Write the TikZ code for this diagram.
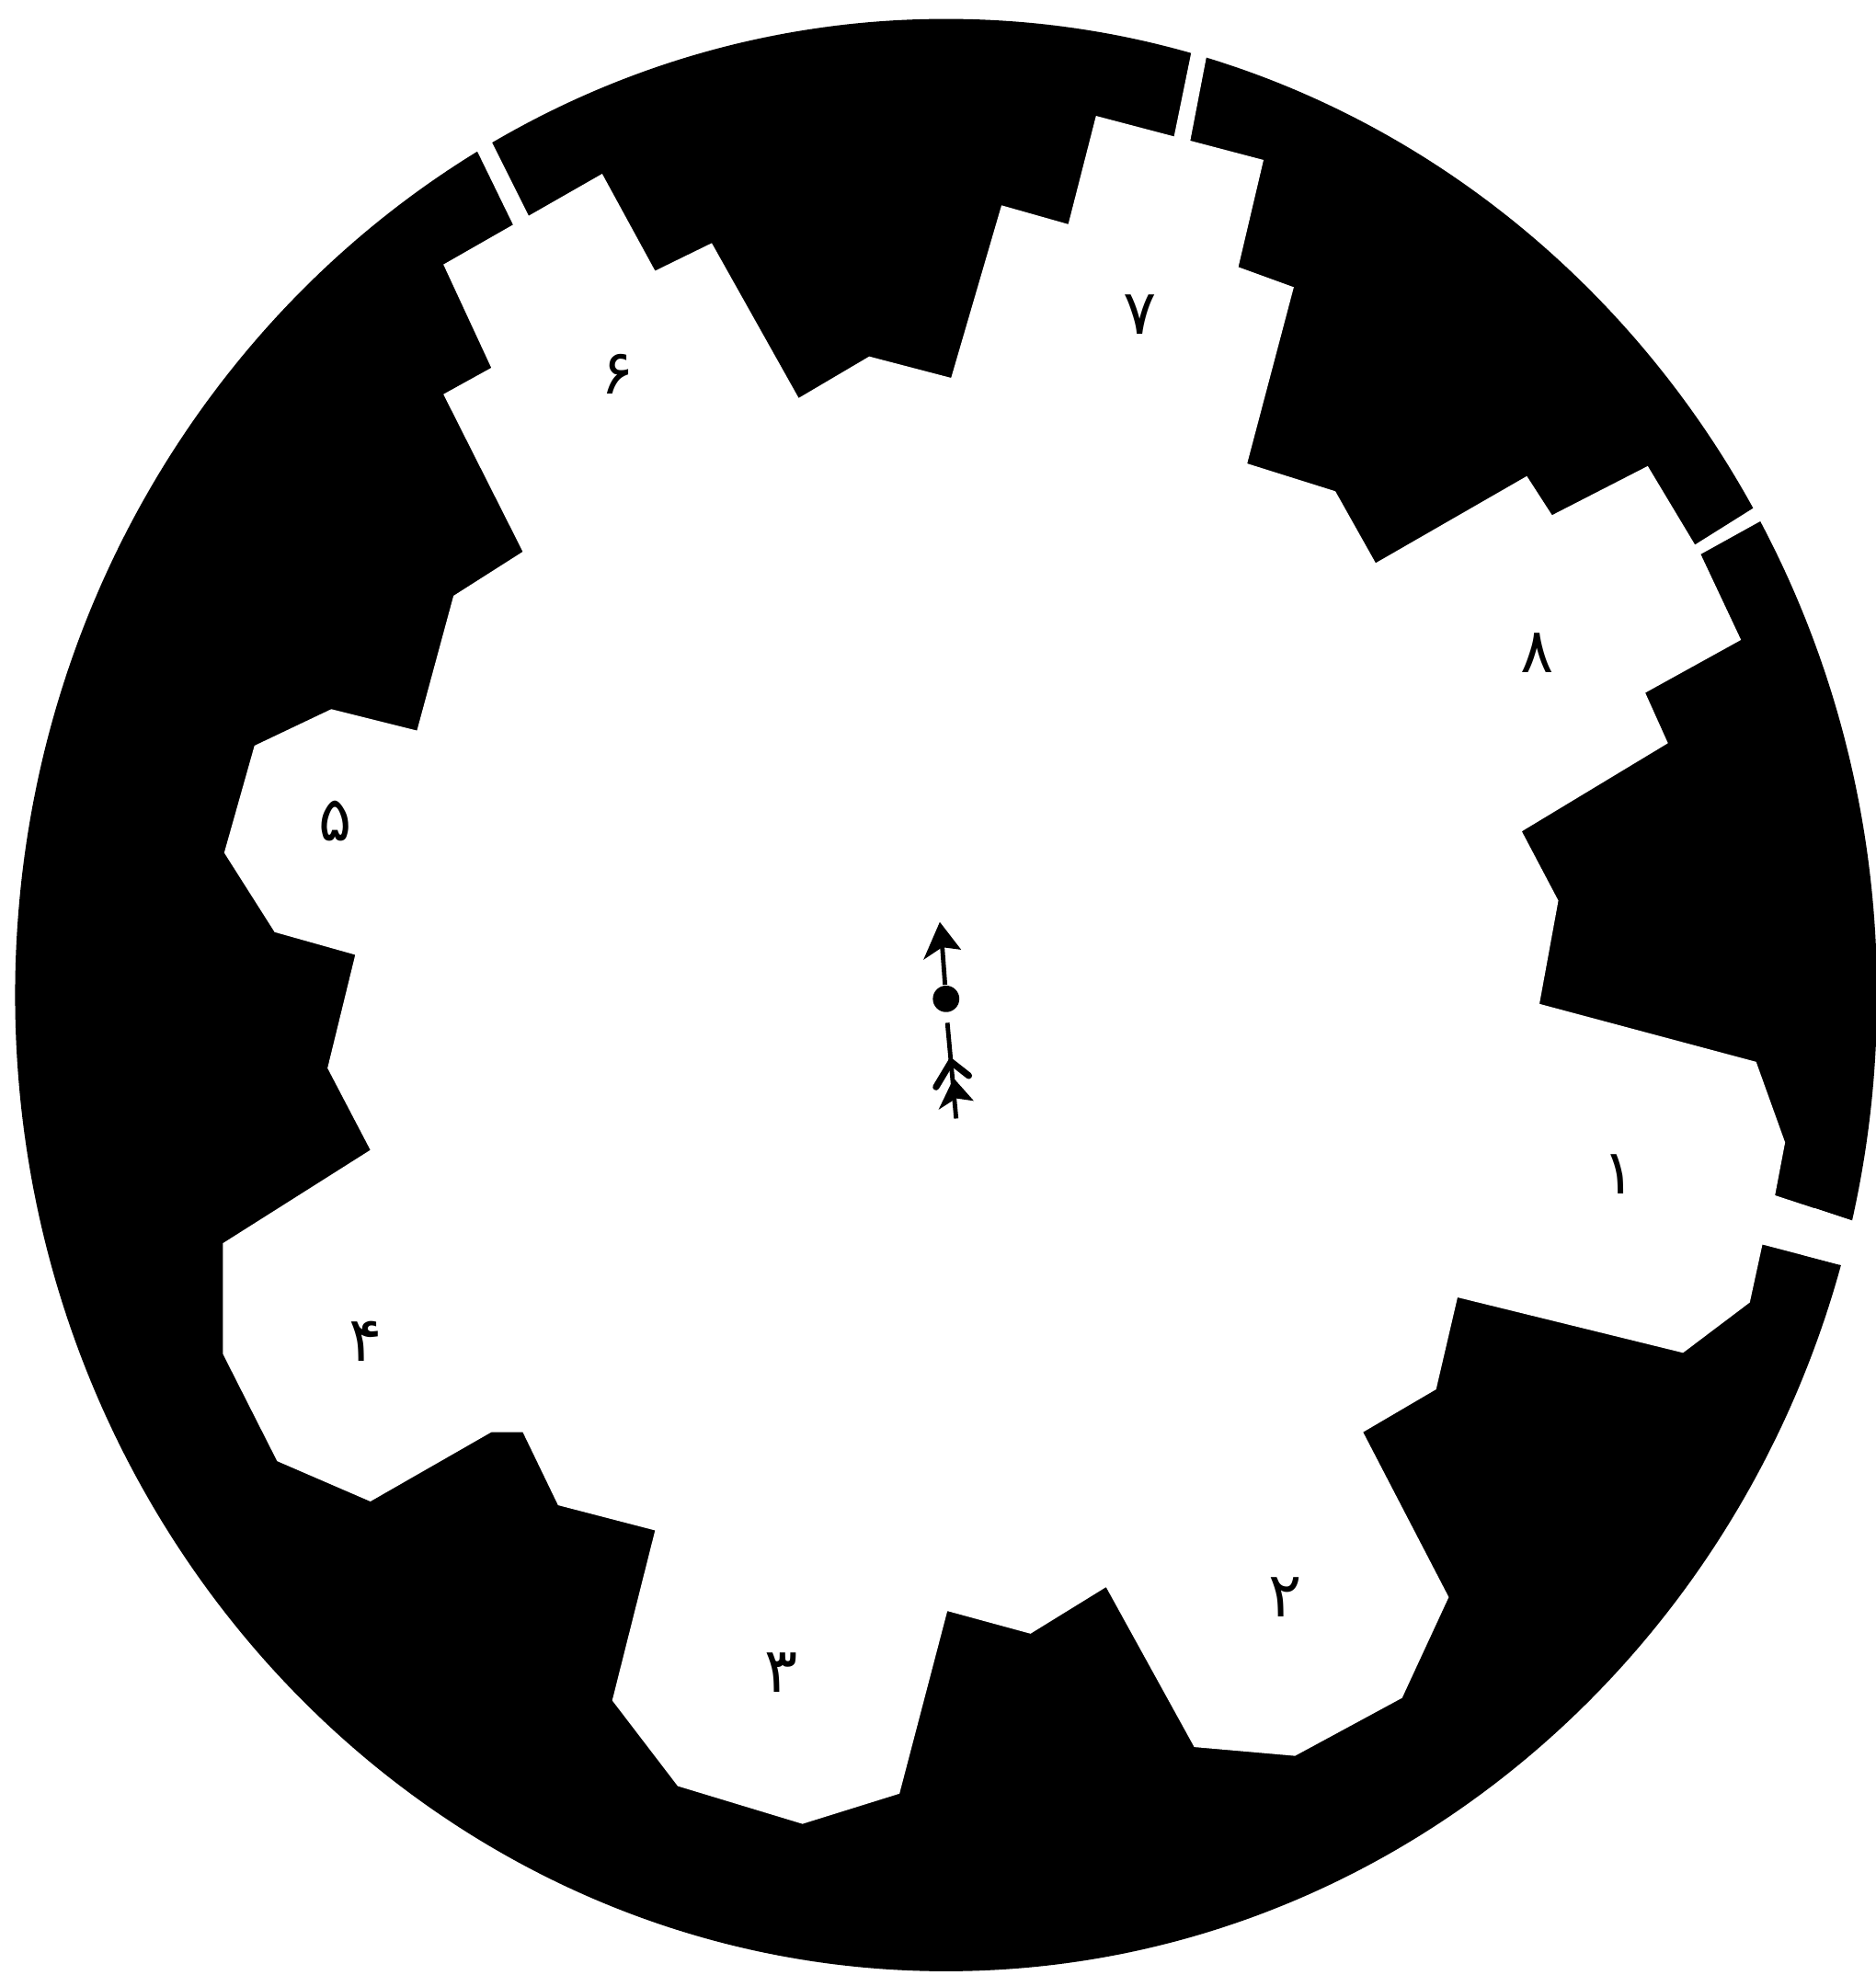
\documentclass[tikz,border=0pt]{standalone}
\usepackage{fontspec}
\newfontfamily\arabicfont[Script=Arabic]{DejaVu Sans}
\tikzset{
    sokhe/.style={inner sep=0pt, font=\arabicfont\fontsize{14}{14}\selectfont},
    khe/.style={fill=white, draw=none},
    mui/.style={line width=1.5pt, line cap=round},
    truc/.style={line width=1pt},
}

\begin{document}
\begin{tikzpicture}[x=0.01cm, y=-0.01cm]
    \useasboundingbox (0,0) rectangle (1489,1568);
    % Disc
    \fill[black] (751,790) ellipse (739 and 775);
    % Opening with its eight teeth
    \fill[khe] (352,210) -- (478,138) -- (520,215) -- (565,193) -- (634,316) -- (690,283) -- (755,300)
        -- (795,163) -- (848,178) -- (870,92) -- (1003,127) -- (983,212) -- (1027,228) -- (990,368)
        -- (1060,390) -- (1092,447) -- (1212,378) -- (1232,409) -- (1308,370) -- (1350,440)
        -- (1382,508) -- (1306,550) -- (1324,590) -- (1208,660) -- (1237,715) -- (1222,797)
        -- (1394,843) -- (1417,907) -- (1409,949) -- (1470,969) -- (1460,1004) -- (1399,988)
        -- (1389,1034) -- (1336,1074) -- (1157,1030) -- (1140,1103) -- (1082,1137) -- (1150,1268)
        -- (1113,1348) -- (1028,1394) -- (948,1387) -- (878,1260) -- (818,1297) -- (752,1279)
        -- (714,1424) -- (637,1448) -- (538,1418) -- (486,1350) -- (520,1215) -- (443,1195)
        -- (415,1137) -- (390,1137) -- (294,1192) -- (220,1160) -- (177,1075) -- (177,987)
        -- (294,913) -- (260,848) -- (282,758) -- (218,740) -- (178,677) -- (202,592) -- (263,563)
        -- (331,580) -- (360,473) -- (415,438) -- (352,313) -- (390,292) -- cycle;
    % Slits through the rim
    \fill[khe] (372,106) -- (384,100) -- (422,176) -- (410,184) -- cycle;
    \fill[khe] (948,30) -- (960,33) -- (944,116) -- (931,113) -- cycle;
    \fill[khe] (1410,392) -- (1415,404) -- (1350,440) -- (1343,434) -- cycle;
    \fill[khe] (1440,959) -- (1500,979) -- (1490,1012) -- (1430,996) -- cycle;
    % Numbers
    \foreach \x/\y/\so [count=\i] in {1285/932/۱, 1020/1268/۲, 620/1328/۳, 290/1065/۴,
        266/652/۵, 490/297/۶, 905/250/۷, 1220/518/۸}
        \node[sokhe] (so\i) at (\x,\y) {\so};
    % Centre
    \node[circle, fill=black, inner sep=0pt, minimum size=0.21cm] (tam) at (751,793) {};
    \coordinate (dau) at (748,752);
    \coordinate (chan) at (752,812);
    \coordinate (cuoi) at (759,888);
    \draw[truc] (tam) -- (dau);
    \fill (746,732) -- (763,754) -- (748,752) -- (733,762) -- cycle;
    \draw[truc] (chan) -- (cuoi);
    \draw[mui] (743,863) -- (755,843) -- (769,854);
    \fill (757,856) -- (773,874) -- (759,872) -- (745,881) -- cycle;
\end{tikzpicture}
\end{document}
